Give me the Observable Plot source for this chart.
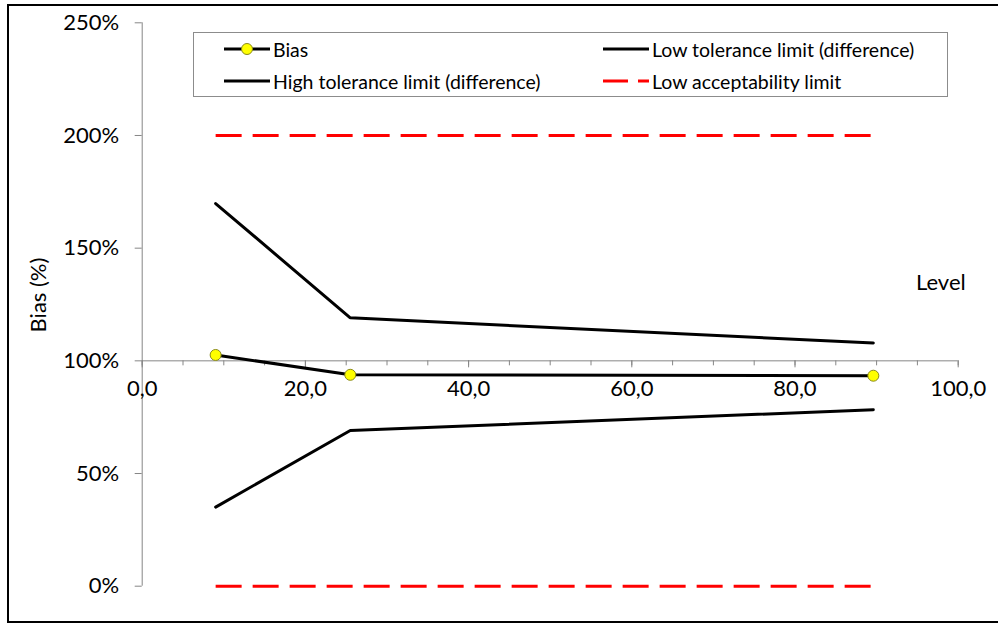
<!DOCTYPE html>
<html>
<head>
<meta charset="utf-8">
<script src="https://cdn.jsdelivr.net/npm/d3@7"></script>
<script src="https://cdn.jsdelivr.net/npm/@observablehq/plot@0.6"></script>
<style>
  html, body { margin: 0; padding: 0; background: #fff; overflow: hidden; }
  #wrap { position: relative; width: 998px; height: 624px; font-family: Lato, "Open Sans", sans-serif; }
  #frame { position: absolute; left: 7px; top: 4px; width: 1010px; height: 619px; border: 2px solid #000; box-sizing: border-box; pointer-events: none; }
  #legend { position: absolute; left: 193px; top: 32px; width: 755px; height: 65px; border: 1px solid #8c8c8c; box-sizing: border-box; background: #fff; }
  .item { position: absolute; height: 26px; display: flex; align-items: center; font-size: 19.5px; color: #000; white-space: nowrap; }
  .item svg { display: block; margin-right: 3px; }
  #ylabel { position: absolute; left: 37px; top: 295px; transform: translate(-50%, -50%) rotate(-90deg); font-size: 22px; white-space: nowrap; }
  #xlabel { position: absolute; left: 916px; top: 281px; transform: translateY(-50%); font-size: 22px; }
</style>
</head>
<body>
<div id="wrap">
  <div id="chart"></div>
  <div id="ylabel">Bias (%)</div>
  <div id="xlabel">Level</div>
  <div id="legend"></div>
  <div id="frame"></div>
</div>
<script>
// ---- data ----
const levels   = [9.0, 25.5, 89.6];
const bias     = [102.6, 93.8, 93.4];
const highTol  = [169.8, 119.1, 107.9];
const lowTol   = [35.1, 69.1, 78.3];
const lowAcc   = [0, 0, 0];
const highAcc  = [200, 200, 200];

const yTicks      = [0, 50, 100, 150, 200, 250];
const xTicks      = [0, 20, 40, 60, 80, 100];
const xMinorTicks = [0, 5, 10, 15, 20, 25, 30, 35, 40, 45, 50, 55, 60, 65, 70, 75, 80, 85, 90, 95, 100];

const legendItems = [
  {label: "Bias", kind: "bias"},
  {label: "Low tolerance limit (difference)", kind: "solid"},
  {label: "High tolerance limit (difference)", kind: "solid"},
  {label: "Low acceptability limit", kind: "dash"}
];

// ---- build table ----
const rows = levels.map((x, i) => ({
  x, bias: bias[i], high: highTol[i], low: lowTol[i], lowAcc: lowAcc[i], highAcc: highAcc[i]
}));

const W = 998, H = 624;
const mL = 141.7, mR = 40.3, mT = 22.3, mB = 38.3;
const innerH = H - mT - mB;
const yDomain = [0, 250];
const xAxisDy = -((100 - yDomain[0]) / (yDomain[1] - yDomain[0])) * innerH;

const axisGray = "#868686";
const red = "#ff0000";
const dash = "26,11";

const fmtX = d => d.toFixed(1).replace(".", ",");

const chart = Plot.plot({
  width: W, height: H,
  marginLeft: mL, marginRight: mR, marginTop: mT, marginBottom: mB,
  x: {domain: [0, 100]},
  y: {domain: yDomain},
  style: {fontFamily: "Lato, 'Open Sans', sans-serif", fontSize: "22px", color: "#000", background: "transparent", overflow: "visible"},
  marks: [
    Plot.ruleX([0], {stroke: axisGray, strokeWidth: 1}),
    Plot.ruleY([100], {stroke: axisGray, strokeWidth: 1}),
    Plot.axisY({ticks: yTicks, tickSize: 7, tickPadding: 16, tickFormat: d => d + "%", stroke: axisGray, label: null, fontSize: 22}),
    Plot.axisX({ticks: xMinorTicks, tickSize: 5, tickFormat: () => "", stroke: axisGray, label: null, dy: xAxisDy, anchor: "bottom"}),
    Plot.axisX({ticks: xTicks, tickSize: 7, tickPadding: 13, tickFormat: fmtX, stroke: axisGray, label: null, dy: xAxisDy, anchor: "bottom", fontSize: 22}),
    Plot.line(rows, {x: "x", y: "highAcc", stroke: red, strokeWidth: 3, strokeDasharray: dash, strokeLinecap: "butt"}),
    Plot.line(rows, {x: "x", y: "lowAcc", stroke: red, strokeWidth: 3, strokeDasharray: dash, strokeLinecap: "butt"}),
    Plot.line(rows, {x: "x", y: "high", stroke: "#000", strokeWidth: 3, strokeLinejoin: "miter"}),
    Plot.line(rows, {x: "x", y: "low", stroke: "#000", strokeWidth: 3, strokeLinejoin: "miter"}),
    Plot.line(rows, {x: "x", y: "bias", stroke: "#000", strokeWidth: 3}),
    Plot.dot(rows, {x: "x", y: "bias", r: 5.5, fill: "#ffff00", stroke: "#8a8a1a", strokeWidth: 1})
  ]
});
document.getElementById("chart").appendChild(chart);

// ---- legend ----
const legend = document.getElementById("legend");
const pos = [
  {left: 30, top: 3},   // Bias
  {left: 409, top: 3},  // Low tolerance
  {left: 30, top: 35},  // High tolerance
  {left: 409, top: 35}  // Low acceptability
];
legendItems.forEach((it, i) => {
  const div = document.createElement("div");
  div.className = "item";
  div.style.left = pos[i].left + "px";
  div.style.top = pos[i].top + "px";
  let sw;
  if (it.kind === "bias") {
    sw = `<svg width="46" height="14"><line x1="0" y1="7" x2="46" y2="7" stroke="#000" stroke-width="3"/><circle cx="23" cy="7" r="5.5" fill="#ffff00" stroke="#8a8a1a" stroke-width="1"/></svg>`;
  } else if (it.kind === "solid") {
    sw = `<svg width="46" height="14"><line x1="0" y1="7" x2="46" y2="7" stroke="#000" stroke-width="3"/></svg>`;
  } else {
    sw = `<svg width="46" height="14"><line x1="0" y1="7" x2="46" y2="7" stroke="${red}" stroke-width="3" stroke-dasharray="25,10"/></svg>`;
  }
  div.innerHTML = sw + `<span>${it.label}</span>`;
  legend.appendChild(div);
});
</script>
</body>
</html>
